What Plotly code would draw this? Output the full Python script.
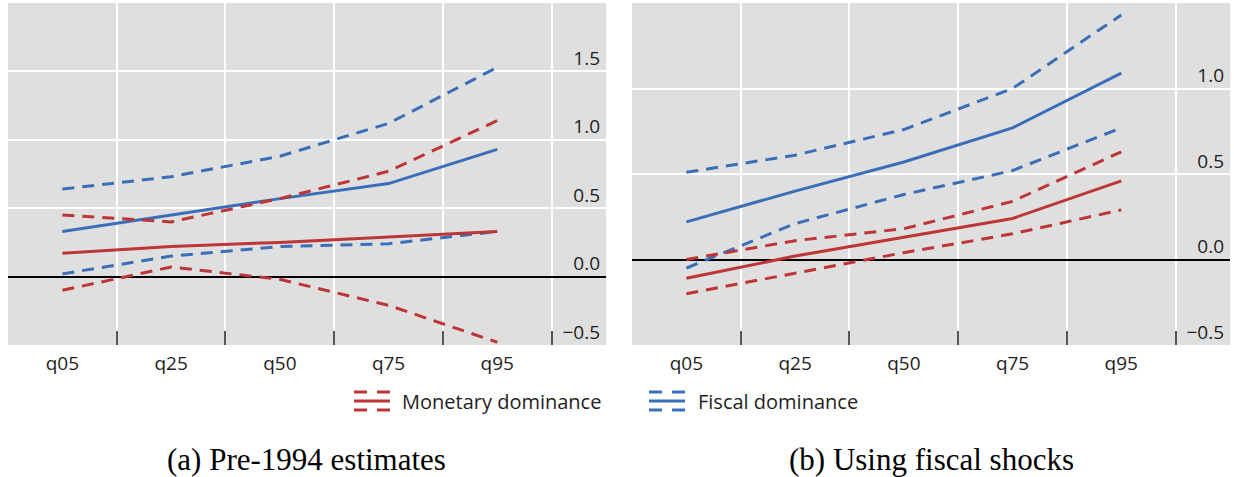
import plotly.graph_objects as go
from plotly.subplots import make_subplots

# ---------------- data ----------------
quantiles = ["q05", "q25", "q50", "q75", "q95"]

# (a) Pre-1994 estimates
mon_a = [0.17, 0.22, 0.25, 0.29, 0.33]
mon_a_hi = [0.45, 0.40, 0.57, 0.77, 1.14]
mon_a_lo = [-0.10, 0.07, -0.02, -0.21, -0.48]
fis_a = [0.33, 0.45, 0.57, 0.68, 0.93]
fis_a_hi = [0.64, 0.73, 0.88, 1.12, 1.53]
fis_a_lo = [0.02, 0.15, 0.22, 0.24, 0.33]

# (b) Using fiscal shocks
mon_b = [-0.11, 0.02, 0.13, 0.24, 0.46]
mon_b_hi = [0.00, 0.11, 0.18, 0.34, 0.63]
mon_b_lo = [-0.20, -0.08, 0.04, 0.15, 0.29]
fis_b = [0.22, 0.40, 0.57, 0.77, 1.09]
fis_b_hi = [0.51, 0.61, 0.76, 1.00, 1.43]
fis_b_lo = [-0.05, 0.21, 0.38, 0.52, 0.77]

yticks_a = [-0.5, 0.0, 0.5, 1.0, 1.5]
yticks_b = [-0.5, 0.0, 0.5, 1.0]

legend_labels = ["Monetary dominance", "Fiscal dominance"]
captions = ["(a) Pre-1994 estimates", "(b) Using fiscal shocks"]

# ---------------- style ----------------
RED = "#BD3535"
BLUE = "#3A6EB8"
BG = "#DFDFDF"
TXT = "#1E1E1E"
W, H = 1234, 477
ML, MR, MT, MB = 0, 0, 3, 132
SANS = "Open Sans, Noto Sans, sans-serif"
SERIF = "Liberation Serif, DejaVu Serif, serif"
DASH = "12px,8px"

fig = make_subplots(rows=1, cols=2, horizontal_spacing=0.02)


def add_panel(col, mon, mon_hi, mon_lo, fis, fis_hi, fis_lo):
    series = [
        (fis_hi, BLUE, DASH), (fis_lo, BLUE, DASH), (fis, BLUE, "solid"),
        (mon_hi, RED, DASH), (mon_lo, RED, DASH), (mon, RED, "solid"),
    ]
    for vals, color, dash in series:
        fig.add_trace(
            go.Scatter(x=quantiles, y=vals, mode="lines",
                       line=dict(color=color, width=3, dash=dash),
                       showlegend=False, hoverinfo="skip"),
            row=1, col=col,
        )


add_panel(1, mon_a, mon_a_hi, mon_a_lo, fis_a, fis_a_hi, fis_a_lo)
add_panel(2, mon_b, mon_b_hi, mon_b_lo, fis_b, fis_b_hi, fis_b_lo)

xaxis_common = dict(
    type="category", categoryorder="array", categoryarray=quantiles,
    range=[-0.5, 5.0], tickson="boundaries", showgrid=True,
    gridcolor="white", gridwidth=2, ticks="inside", ticklen=14,
    tickwidth=2, tickcolor="#555555", showline=False, zeroline=False,
    tickfont=dict(family=SANS, size=19, color=TXT),
    ticklabelstandoff=5,
)
yaxis_common = dict(
    side="right", ticklabelposition="inside", showgrid=True,
    gridcolor="white", gridwidth=2, zeroline=True, zerolinecolor="black",
    zerolinewidth=1.5, ticks="", showline=False,
    tickfont=dict(family=SANS, size=19, color=TXT),
    ticklabelshift=-13, ticklabelstandoff=3, tickformat=".1f",
)

fig.update_xaxes(**xaxis_common)
fig.update_yaxes(**yaxis_common)

fig.update_layout(
    xaxis=dict(domain=[8 / W, 606 / W]),
    xaxis2=dict(domain=[632 / W, 1230 / W]),
    yaxis=dict(range=[-0.5, 2.0], tickvals=yticks_a),
    yaxis2=dict(range=[-0.5, 1.5], tickvals=yticks_b),
)

plot_h = H - MT - MB


def py(ypix):
    return (H - MB - ypix) / plot_h


def px(xpix):
    return xpix / W


# custom legend (dashed / solid / dashed icon)
shapes = []
annotations = []
for (x0, color, label, tx) in [(354, RED, legend_labels[0], 400),
                               (649, BLUE, legend_labels[1], 696)]:
    for yy in (392, 410):
        for a, b in ((x0, x0 + 13), (x0 + 23, x0 + 36)):
            shapes.append(dict(type="line", xref="paper", yref="paper",
                               x0=px(a), x1=px(b), y0=py(yy), y1=py(yy),
                               line=dict(color=color, width=3)))
    shapes.append(dict(type="line", xref="paper", yref="paper",
                       x0=px(x0), x1=px(x0 + 36), y0=py(401), y1=py(401),
                       line=dict(color=color, width=3)))
    annotations.append(dict(text=label, xref="paper", yref="paper",
                            x=px(tx), y=py(401), xanchor="left",
                            yanchor="middle", showarrow=False,
                            font=dict(family=SANS, size=20, color=TXT)))

for text, cx in zip(captions, (306, 931)):
    annotations.append(dict(text=text, xref="paper", yref="paper",
                            x=px(cx), y=py(459), xanchor="center",
                            yanchor="middle", showarrow=False,
                            font=dict(family=SERIF, size=31, color="black")))

fig.update_layout(
    width=W, height=H, autosize=False,
    margin=dict(l=ML, r=MR, t=MT, b=MB),
    paper_bgcolor="white", plot_bgcolor=BG,
    showlegend=False, shapes=shapes, annotations=annotations,
)

fig.write_html(
    "out.html",
    config={"displayModeBar": False},
    post_script="document.body.style.margin='0';document.body.style.overflow='hidden';",
)
